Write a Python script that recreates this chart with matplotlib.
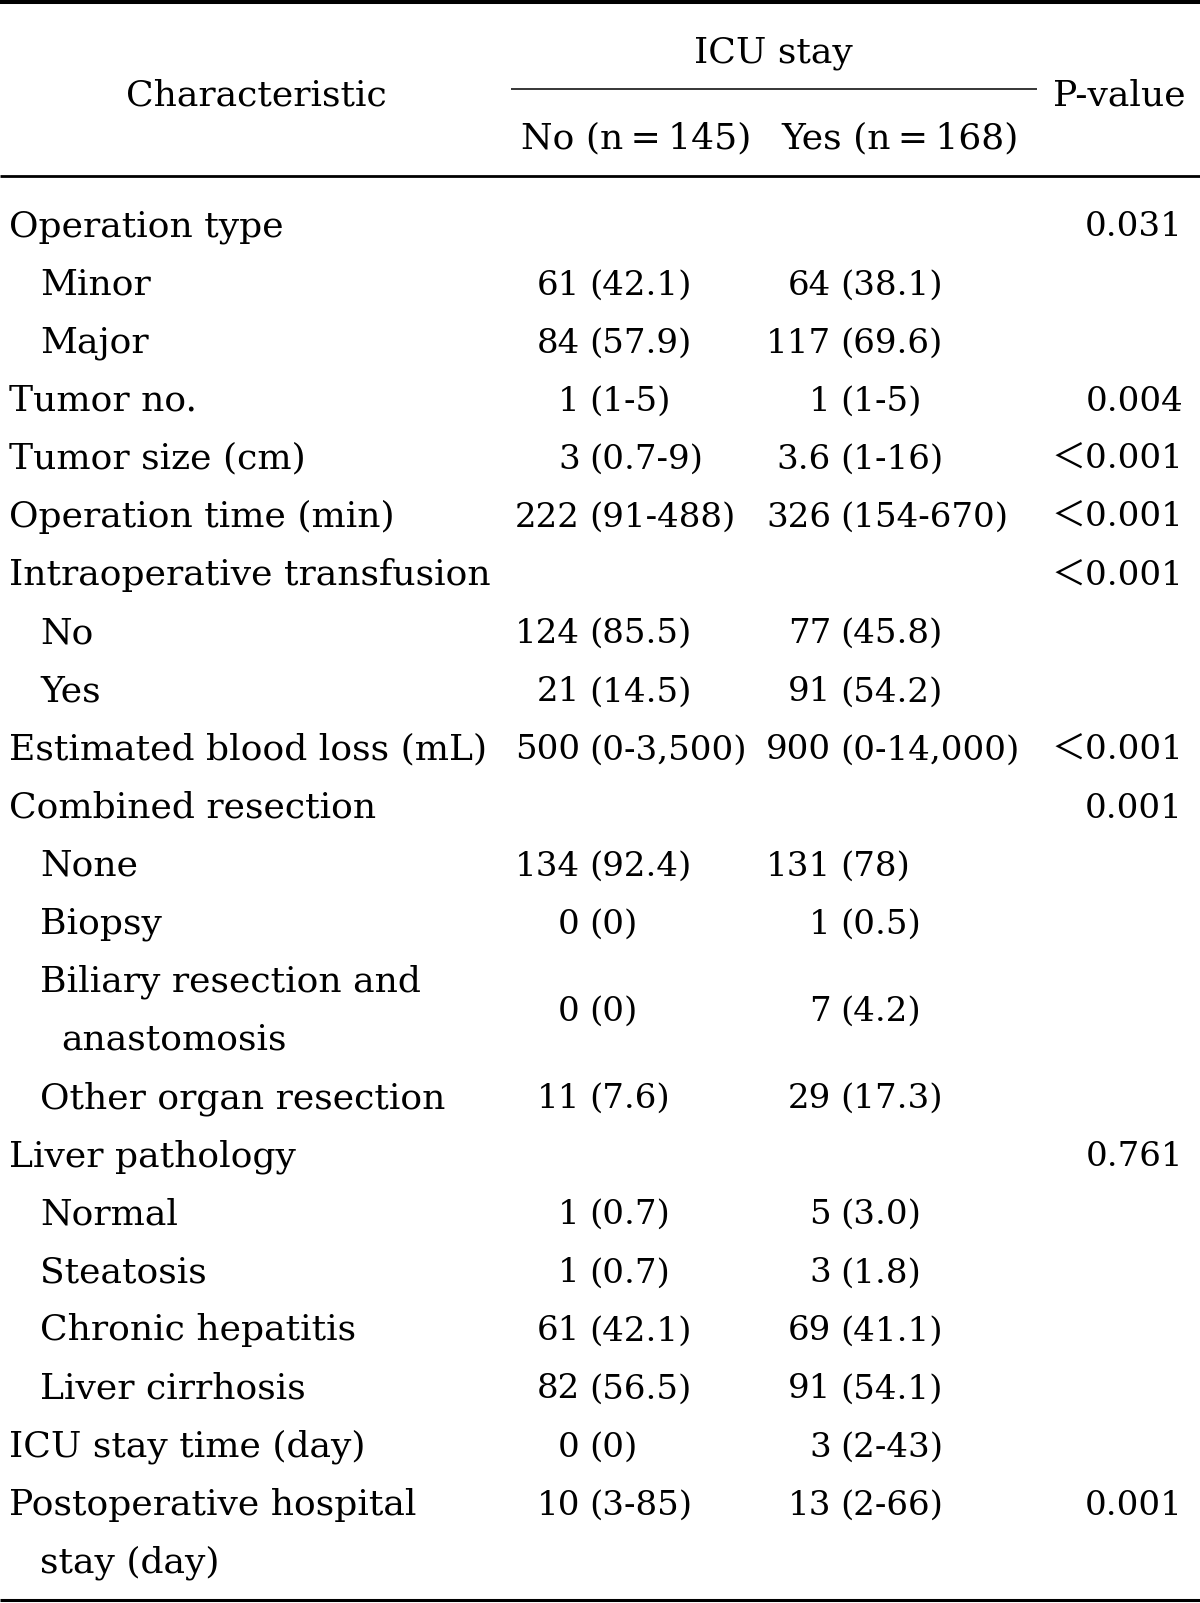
import matplotlib
matplotlib.use("Agg")
import matplotlib.pyplot as plt

plt.rcParams['font.family'] = ['DejaVu Serif', 'Noto Sans CJK JP']

# table content
labels = ["Operation type", "Minor", "Major", "Tumor no.", "Tumor size (cm)",
          "Operation time (min)", "Intraoperative transfusion", "No", "Yes",
          "Estimated blood loss (mL)", "Combined resection", "None", "Biopsy",
          "Biliary resection and\nanastomosis", "Other organ resection",
          "Liver pathology", "Normal", "Steatosis", "Chronic hepatitis",
          "Liver cirrhosis", "ICU stay time (day)",
          "Postoperative hospital\nstay (day)"]
indent = [0, 1, 1, 0, 0, 0, 0, 1, 1, 0, 0, 1, 1, 1, 1, 0, 1, 1, 1, 1, 0, 0]
no_vals = ["", "61 (42.1)", "84 (57.9)", "1 (1-5)", "3 (0.7-9)", "222 (91-488)",
           "", "124 (85.5)", "21 (14.5)", "500 (0-3,500)", "", "134 (92.4)",
           "0 (0)", "0 (0)", "11 (7.6)", "", "1 (0.7)", "1 (0.7)", "61 (42.1)",
           "82 (56.5)", "0 (0)", "10 (3-85)"]
yes_vals = ["", "64 (38.1)", "117 (69.6)", "1 (1-5)", "3.6 (1-16)", "326 (154-670)",
            "", "77 (45.8)", "91 (54.2)", "900 (0-14,000)", "", "131 (78)",
            "1 (0.5)", "7 (4.2)", "29 (17.3)", "", "5 (3.0)", "3 (1.8)", "69 (41.1)",
            "91 (54.1)", "3 (2-43)", "13 (2-66)"]
p_vals = ["0.031", "", "", "0.004", "＜0.001", "＜0.001", "＜0.001", "", "",
          "＜0.001", "0.001", "", "", "", "", "0.761", "", "", "", "", "", "0.001"]

col_header = "Characteristic"
group_header = "ICU stay"
sub_headers = ["No (n\u2009=\u2009145)", "Yes (n\u2009=\u2009168)"]
p_header = "P-value"

W, H = 1200, 1603
fig = plt.figure(figsize=(W / 100, H / 100), dpi=100)
ax = fig.add_axes([0, 0, 1, 1])
ax.set_xlim(0, W)
ax.set_ylim(H, 0)
ax.axis('off')

fs = 26      # labels / headers
fs_v = 24.5  # numeric cells
base0 = 236.5
step = 58.1

# rules
ax.plot([0, W], [2, 2], color='black', lw=2.9, solid_capstyle='butt')
ax.plot([0, W], [176, 176], color='black', lw=2.0, solid_capstyle='butt')
ax.plot([511, 1037], [89, 89], color='black', lw=1.1, solid_capstyle='butt')
ax.plot([0, W], [1600, 1600], color='black', lw=2.2, solid_capstyle='butt')

# header
ax.text(256, 105, col_header, fontsize=fs, ha='center', va='baseline')
ax.text(773, 62, group_header, fontsize=fs, ha='center', va='baseline')
ax.text(636, 148, sub_headers[0], fontsize=fs, ha='center', va='baseline')
ax.text(900, 148, sub_headers[1], fontsize=fs, ha='center', va='baseline')
ax.text(1186, 105, p_header, fontsize=fs, ha='right', va='baseline')


def put_value(val, xnum, y):
    if not val:
        return
    num, rest = val.split(' ', 1)
    ax.text(xnum, y, num, fontsize=fs_v, ha='right', va='baseline')
    ax.text(xnum + 9, y, rest, fontsize=fs_v, ha='left', va='baseline')


line = 0
for i, lab in enumerate(labels):
    parts = lab.split('\n')
    x0 = 9 if indent[i] == 0 else 40
    for k, part in enumerate(parts):
        xx = x0 if k == 0 else x0 + (21 if indent[i] else 31)
        ax.text(xx, base0 + (line + k) * step, part, fontsize=fs,
                ha='left', va='baseline')
    if len(parts) > 1 and indent[i] == 1:
        yv = base0 + (line + 0.5) * step
    else:
        yv = base0 + line * step
    put_value(no_vals[i], 580, yv)
    put_value(yes_vals[i], 831, yv)
    if p_vals[i]:
        ax.text(1183, yv, p_vals[i], fontsize=fs_v, ha='right', va='baseline')
    line += len(parts)

fig.savefig('out.png', dpi=100, facecolor='white')
